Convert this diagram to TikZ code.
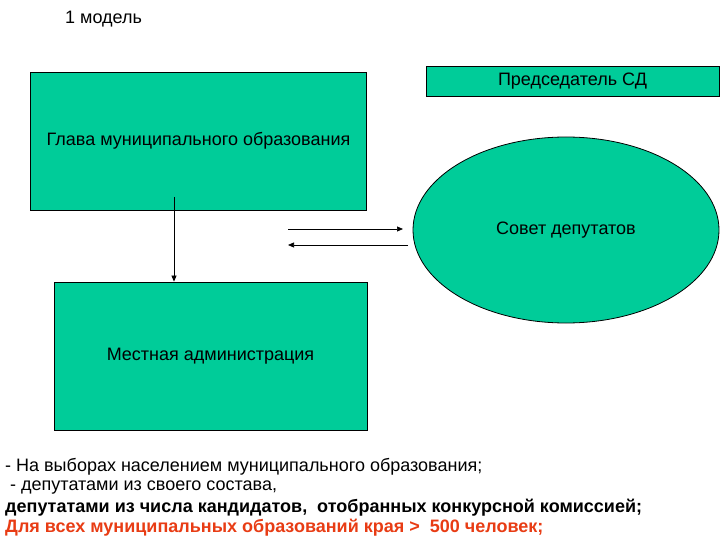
\documentclass[tikz,border=0pt]{standalone}
\usepackage{fontspec}
\setmainfont{Liberation Sans}
\usetikzlibrary{shapes.geometric,arrows.meta}
\definecolor{boxgreen}{RGB}{0,204,153}
\definecolor{redtxt}{RGB}{232,60,20}
\begin{document}
\begin{tikzpicture}[x=1pt,y=-1pt,
  gbox/.style={draw=black,fill=boxgreen,line width=0.8pt,inner sep=0pt,font=\fontsize{18}{21}\selectfont},
  conn/.style={line width=0.7pt,-{Triangle[length=6pt,width=5pt]}},
  btxt/.style={anchor=west,inner sep=0pt,font=\fontsize{18}{21}\selectfont}]
\useasboundingbox (0,0) rectangle (720,540);
\node[anchor=west,inner sep=0pt,font=\fontsize{18}{21}\selectfont] (title) at (65,19) {1 модель};
\node[gbox,minimum width=336pt,minimum height=138pt] (glava) at (198.5,141) {Глава муниципального образования};
\node[gbox,minimum width=293pt,minimum height=30pt] (pred) at (572.5,81) {Председатель СД};
\node[gbox,ellipse,minimum width=306pt,minimum height=186pt] (sovet) at (566,230) {Совет депутатов};
\node[gbox,minimum width=313pt,minimum height=148pt] (admin) at (210.5,356) {Местная администрация};
\coordinate (vtop) at (174,197);
\draw[conn] (vtop) -- (vtop |- admin.north);
\coordinate (a1) at (288,229);
\coordinate (a2) at (403,229);
\coordinate (b1) at (408,245);
\coordinate (b2) at (288,245);
\draw[conn] (a1) -- (a2);
\draw[conn] (b1) -- (b2);
\node[btxt] (l1) at (5,467) {- На выборах населением муниципального образования;};
\node[btxt] (l2) at (5,488) {\ - депутатами из своего состава,};
\node[btxt,font=\fontsize{18}{21}\selectfont\bfseries] (l3) at (5,508) {депутатами из числа кандидатов,\ \ отобранных конкурсной комиссией;};
\node[btxt,font=\fontsize{18}{21}\selectfont\bfseries,text=redtxt] (l4) at (5,528) {Для всех муниципальных образований края >\ \ 500 человек;};
\end{tikzpicture}
\end{document}
